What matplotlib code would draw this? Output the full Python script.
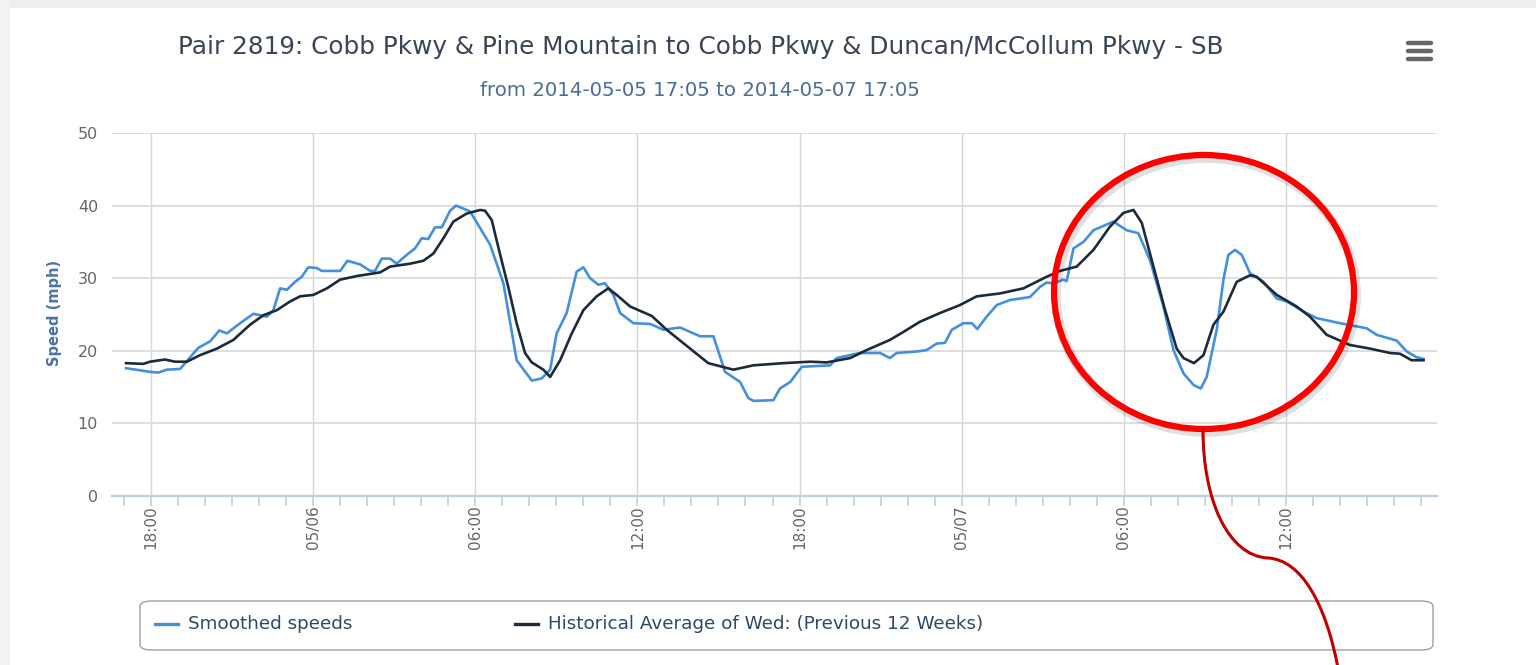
import numpy as np
import pandas as pd
import matplotlib
matplotlib.use("Agg")
import matplotlib.pyplot as plt
import matplotlib.dates as mdates
from matplotlib.patches import Ellipse, FancyBboxPatch, PathPatch, Rectangle
from matplotlib.path import Path
from matplotlib.lines import Line2D

# data: hours after 2014-05-05 17:05, speed in mph
start = pd.Timestamp("2014-05-05 17:05")

smooth_hours = [0, 0.89, 1.19, 1.51, 2.00, 2.67, 3.11, 3.45, 3.73, 4.22, 4.71, 5.21, 5.45, 5.70,
                5.95, 6.25, 6.50, 6.74, 7.06, 7.24, 7.92, 8.19, 8.66, 9.03, 9.21, 9.46, 9.77,
                10.01, 10.38, 10.69, 10.94, 11.18, 11.43, 11.68, 11.99, 12.21, 12.73, 13.47,
                13.96, 14.45, 15.01, 15.38, 15.69, 15.93, 16.30, 16.67, 16.92, 17.17, 17.47,
                17.72, 18.03, 18.28, 18.77, 19.39, 19.88, 20.50, 21.24, 21.73, 22.16, 22.72,
                23.02, 23.21, 23.95, 24.19, 24.57, 25.00, 25.55, 26.05, 26.29, 27.15, 27.90,
                28.26, 28.51, 29.25, 29.62, 29.99, 30.30, 30.55, 30.98, 31.29, 31.49, 31.84,
                32.21, 32.70, 33.44, 33.81, 34.06, 34.31, 34.68, 34.80, 35.05, 35.42, 35.79,
                36.53, 37.02, 37.45, 37.88, 38.38, 38.75, 39.12, 39.49, 39.76, 39.98, 40.35,
                40.60, 40.78, 41.03, 41.28, 41.58, 42.08, 42.57, 42.94, 43.56, 44.05, 44.91,
                45.90, 46.27, 47.01, 47.38, 47.75, 48.00]
smooth_speed = [17.6, 17.1, 17.0, 17.4, 17.5, 20.4, 21.3, 22.8, 22.4, 23.8, 25.1, 24.7, 25.6, 28.6,
                28.4, 29.5, 30.2, 31.5, 31.4, 31.0, 31.0, 32.4, 31.9, 31.0, 31.0, 32.7, 32.7,
                32.0, 33.2, 34.1, 35.5, 35.4, 37.0, 37.0, 39.3, 40.0, 39.2, 34.6,
                29.3, 18.7, 15.9, 16.2, 17.4, 22.4, 25.2, 30.9, 31.5, 30.0, 29.1,
                29.3, 27.7, 25.2, 23.8, 23.7, 22.9, 23.2, 22.0, 22.0, 17.1, 15.7,
                13.5, 13.1, 13.2, 14.8, 15.7, 17.8, 17.9, 18.0, 19.0, 19.7, 19.7,
                19.0, 19.7, 19.9, 20.1, 21.0, 21.1, 22.9, 23.8, 23.8, 23.0, 24.7,
                26.3, 27.0, 27.4, 28.8, 29.4, 29.3, 29.8, 29.6, 34.1, 35.0, 36.6,
                37.8, 36.6, 36.2, 32.5, 26.1, 20.1, 16.9, 15.3, 14.8, 16.4, 22.9,
                29.8, 33.2, 33.9, 33.2, 30.7, 29.5, 27.2, 26.8, 25.4, 24.5, 23.8,
                23.1, 22.2, 21.4, 19.9, 19.1, 18.9]

hist_hours = [0, 0.64, 0.89, 1.44, 1.81, 2.25, 2.74, 3.36, 3.97, 4.59, 5.08, 5.58, 6.07, 6.44,
              6.93, 7.43, 7.92, 8.54, 9.40, 9.77, 10.51, 11.00, 11.37, 11.74, 12.11, 12.60,
              13.10, 13.28, 13.53, 13.77, 14.14, 14.45, 14.76, 15.01, 15.44, 15.69, 16.06,
              16.49, 16.92, 17.41, 17.84, 18.15, 18.65, 19.45, 20.00, 20.87, 21.54, 22.47,
              23.21, 24.32, 25.31, 25.92, 26.79, 27.40, 28.26, 28.76, 29.37, 30.11, 30.85,
              31.47, 32.33, 33.20, 34.06, 34.55, 35.17, 35.79, 36.40, 36.90, 37.27, 37.58,
              38.01, 38.44, 38.87, 39.12, 39.51, 39.86, 40.23, 40.60, 41.09, 41.58, 41.83,
              42.57, 43.31, 43.80, 44.42, 45.28, 46.02, 46.76, 47.13, 47.56, 48.00]
hist_speed = [18.3, 18.2, 18.5, 18.8, 18.5, 18.5, 19.4, 20.3, 21.5, 23.6, 24.9, 25.6, 26.8, 27.5,
              27.7, 28.6, 29.8, 30.3, 30.8, 31.6, 32.0, 32.4, 33.4, 35.5, 37.8, 38.9,
              39.4, 39.3, 38.0, 34.3, 28.8, 23.8, 19.7, 18.4, 17.4, 16.4, 18.7,
              22.4, 25.6, 27.5, 28.6, 27.7, 26.1, 24.8, 22.9, 20.3, 18.3, 17.4,
              18.0, 18.3, 18.5, 18.4, 19.0, 20.1, 21.5, 22.6, 24.0, 25.2, 26.3,
              27.5, 27.9, 28.6, 30.2, 31.0, 31.6, 33.9, 37.1, 39.0, 39.4, 37.6,
              31.6, 25.6, 20.3, 19.0, 18.3, 19.4, 23.6, 25.4, 29.5, 30.4, 30.2,
              27.7, 26.1, 24.7, 22.2, 20.8, 20.3, 19.7, 19.6, 18.7, 18.7]

title = "Pair 2819: Cobb Pkwy & Pine Mountain to Cobb Pkwy & Duncan/McCollum Pkwy - SB"
subtitle = "from 2014-05-05 17:05 to 2014-05-07 17:05"
labels = ["Smoothed speeds", "Historical Average of Wed: (Previous 12 Weeks)"]
colors = ["#4490E0", "#1C2A3A"]

W, H = 1536, 665
fig = plt.figure(figsize=(W / 100, H / 100), dpi=100)
fig.patch.set_facecolor("white")


def fx(x):
    return x / W


def fy(y):
    return 1 - y / H


# light gray page edges of the screenshot
fig.add_artist(Rectangle((0, fy(8)), 1, 8 / H, transform=fig.transFigure,
                         facecolor="#EEEEEE", edgecolor="none", zorder=0))
fig.add_artist(Rectangle((0, 0), 10 / W, 1, transform=fig.transFigure,
                         facecolor="#F3F3F3", edgecolor="none", zorder=0))

ax = fig.add_axes([fx(112), fy(496), fx(1437) - fx(112), (496 - 133) / H])

t_smooth = start + pd.to_timedelta(smooth_hours, unit="h")
t_hist = start + pd.to_timedelta(hist_hours, unit="h")

ax.plot(t_smooth, smooth_speed, color=colors[0], lw=1.9, zorder=3)
ax.plot(t_hist, hist_speed, color=colors[1], lw=1.9, zorder=3)

ax.set_ylim(0, 50)
ax.set_xlim(start - pd.Timedelta(hours=0.52), start + pd.Timedelta(hours=48.5))
ax.set_yticks(np.arange(0, 51, 10))

ax.xaxis.set_major_locator(mdates.HourLocator(byhour=[0, 6, 12, 18]))
ax.xaxis.set_minor_locator(mdates.HourLocator())


def fmt(x, pos):
    d = mdates.num2date(x)
    return d.strftime("%m/%d") if d.hour == 0 else d.strftime("%H:%M")


ax.xaxis.set_major_formatter(plt.FuncFormatter(fmt))

for s in ["top", "right", "left"]:
    ax.spines[s].set_visible(False)
ax.spines["bottom"].set_color("#C0D0E0")
ax.spines["bottom"].set_linewidth(1.6)

ax.grid(axis="y", color="#D8D8D8", lw=1.2, zorder=0)
ax.grid(axis="x", which="major", color="#D6D6D6", lw=1.0, zorder=0)
ax.tick_params(axis="y", length=0, pad=10, labelsize=11.5, labelcolor="#666666")
ax.tick_params(axis="x", which="both", length=7, color="#C0D0E0", width=1.2)
ax.tick_params(axis="x", which="major", labelsize=11, labelcolor="#666666",
               labelrotation=90, pad=0)
for lab in ax.get_xticklabels():
    lab.set_va("top")

fig.text(fx(55), fy(313), "Speed (mph)", rotation=90, ha="center", va="center",
         fontsize=10.5, fontweight="bold", color="#4A74A6")
fig.text(fx(701), fy(47), title, ha="center", va="center", fontsize=17.8, color="#3A4656")
fig.text(fx(700), fy(91), subtitle, ha="center", va="center", fontsize=14.2, color="#4A6E96")

# export menu icon
for yy in (43, 51, 59):
    fig.add_artist(Line2D([fx(1408), fx(1431)], [fy(yy), fy(yy)], transform=fig.transFigure,
                          color="#666666", lw=3.2, solid_capstyle="round"))

# legend box
fig.add_artist(FancyBboxPatch((fx(140), fy(650)), fx(1433) - fx(140), (650 - 601) / H,
                              boxstyle="round,pad=0,rounding_size=0.008",
                              transform=fig.transFigure, facecolor="white",
                              edgecolor="#A0A0A0", lw=1.0))
for x0, lab, c in [(155, labels[0], colors[0]), (515, labels[1], colors[1])]:
    fig.add_artist(Line2D([fx(x0), fx(x0 + 23)], [fy(624), fy(624)], transform=fig.transFigure,
                          color=c, lw=2.4))
    fig.text(fx(x0 + 33), fy(624), lab, ha="left", va="center", fontsize=13.2, color="#2E4A68")

# red highlight annotation
shadow = Ellipse((fx(1206), fy(295)), 300 / W, 274 / H, transform=fig.transFigure,
                 fill=False, edgecolor="#000000", alpha=0.12, lw=7, zorder=9)
fig.add_artist(shadow)
fig.add_artist(Ellipse((fx(1204), fy(292)), 300 / W, 274 / H, transform=fig.transFigure,
                       fill=False, edgecolor="#FF0000", lw=4.5, zorder=10))
verts = [(1203, 430), (1203, 500), (1228, 556), (1268, 558),
         (1302, 560), (1326, 605), (1338, 668)]
codes = [Path.MOVETO, Path.CURVE4, Path.CURVE4, Path.CURVE4,
         Path.CURVE4, Path.CURVE4, Path.CURVE4]
conn = Path([(fx(a), fy(b)) for a, b in verts], codes)
fig.add_artist(PathPatch(conn, transform=fig.transFigure, fill=False,
                         edgecolor="#C00000", lw=2.2, zorder=10))

fig.savefig("out.png", dpi=100)
